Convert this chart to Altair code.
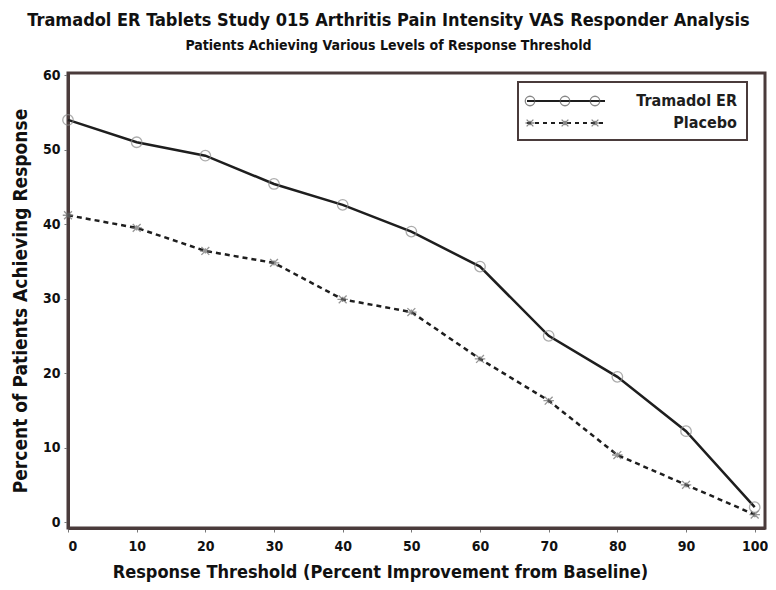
import altair as alt
import pandas as pd

thresholds = [0, 10, 20, 30, 40, 50, 60, 70, 80, 90, 100]
tramadol = [54.0, 51.0, 49.2, 45.4, 42.6, 39.0, 34.3, 25.0, 19.5, 12.2, 2.0]
placebo = [41.2, 39.5, 36.4, 34.8, 29.9, 28.2, 21.9, 16.3, 9.0, 5.0, 1.0]
series_names = ["Tramadol ER", "Placebo"]
x_ticks = [0, 10, 20, 30, 40, 50, 60, 70, 80, 90, 100]
y_ticks = [0, 10, 20, 30, 40, 50, 60]

FONT = "'DejaVu Sans Condensed', 'Liberation Sans Narrow', 'Liberation Sans', sans-serif"
FRAME = "#4a3b3b"

df = pd.DataFrame(
    [{"t": t, "v": v, "s": series_names[0]} for t, v in zip(thresholds, tramadol)]
    + [{"t": t, "v": v, "s": series_names[1]} for t, v in zip(thresholds, placebo)]
)

x = alt.X("t:Q", scale=alt.Scale(domain=[0, 101.5], nice=False, zero=False),
          axis=alt.Axis(values=x_ticks, title="Response Threshold (Percent Improvement from Baseline)",
                        format="d", grid=False, titleX=312, labelPadding=7, titlePadding=10))
y = alt.Y("v:Q", scale=alt.Scale(domain=[-0.8, 60.3], nice=False, zero=False),
          axis=alt.Axis(values=y_ticks, title="Percent of Patients Achieving Response",
                        format="d", grid=False))

ASTER = "M-1,0L1,0M-0.75,-0.75L0.75,0.75M-0.75,0.75L0.75,-0.75M0,-0.5L0,0.5"

tram = df[df.s == series_names[0]]
plac = df[df.s == series_names[1]]

l1 = alt.Chart(tram).mark_line(color="#1e1e1e", strokeWidth=2.5).encode(x=x, y=y)
p1 = alt.Chart(tram).mark_point(shape="circle", filled=False, color="#8a8a8a", size=110, strokeWidth=1.3).encode(x=x, y=y)
l2 = alt.Chart(plac).mark_line(color="#1e1e1e", strokeWidth=2.5, strokeDash=[5, 4]).encode(x=x, y=y)
p2 = alt.Chart(plac).mark_point(shape=ASTER, filled=False, color="#6a6a6a", size=110, strokeWidth=1.3).encode(x=x, y=y)

# legend (pixel-positioned box)
leg_rows = pd.DataFrame({"s": series_names})
box = alt.Chart(leg_rows.head(1)).mark_rect(fill="white", stroke=FRAME, strokeWidth=2).encode(
    x=alt.value(450), x2=alt.value(679), y=alt.value(9), y2=alt.value(67))
lg_l1 = alt.Chart(leg_rows.head(1)).mark_rule(color="#1e1e1e", strokeWidth=2).encode(
    x=alt.value(459), x2=alt.value(537), y=alt.value(28))
lg_l2 = alt.Chart(leg_rows.head(1)).mark_rule(color="#1e1e1e", strokeWidth=2, strokeDash=[4, 4]).encode(
    x=alt.value(459), x2=alt.value(537), y=alt.value(50))
mk = pd.DataFrame({"px": [462, 497, 527]})
lg_p1 = alt.Chart(mk).mark_point(shape="circle", filled=False, color="#555", size=90, strokeWidth=1.3).encode(
    x=alt.X("px:Q", scale=None), y=alt.value(28))
lg_p2 = alt.Chart(mk).mark_point(shape=ASTER, filled=False, color="#555", size=80, strokeWidth=1.3).encode(
    x=alt.X("px:Q", scale=None), y=alt.value(50))
lg_t1 = alt.Chart(leg_rows.head(1)).mark_text(align="right", baseline="middle", font=FONT, fontSize=16,
                                              fontWeight="bold", color="#1e1e1e").encode(
    x=alt.value(669), y=alt.value(28), text="s:N")
lg_t2 = alt.Chart(leg_rows.tail(1)).mark_text(align="right", baseline="middle", font=FONT, fontSize=16,
                                              fontWeight="bold", color="#1e1e1e").encode(
    x=alt.value(669), y=alt.value(50), text="s:N")

chart = alt.layer(l2, l1, p2, p1, box, lg_l1, lg_l2, lg_p1, lg_p2, lg_t1, lg_t2).properties(
    width=697, height=455,
    autosize=alt.AutoSizeParams(type="none"),
    padding={"left": 60, "top": 65, "right": 3, "bottom": 66},
    title=alt.TitleParams(
        text="Tramadol ER Tablets Study 015 Arthritis Pain Intensity VAS Responder Analysis",
        subtitle="Patients Achieving Various Levels of Response Threshold",
        anchor="middle", dx=-28, offset=15,
        font=FONT, fontSize=18, fontWeight="bold", color="#111",
        subtitleFont=FONT, subtitleFontSize=14, subtitleFontWeight="bold", subtitleColor="#111",
        subtitlePadding=9,
    ),
).configure_view(stroke=FRAME, strokeWidth=3).configure_axis(
    domainColor=FRAME, domainWidth=3, tickColor="#777", tickSize=4,
    labelFont=FONT, labelFontSize=14, labelFontWeight="bold", labelColor="#111", labelPadding=4,
    titleFont=FONT, titleFontSize=19, titleFontWeight="bold", titleColor="#111",
).configure_axisY(titlePadding=12).configure_axisX(titleFontSize=18)

chart.save("out.html", embed_options={"renderer": "svg", "actions": False})
